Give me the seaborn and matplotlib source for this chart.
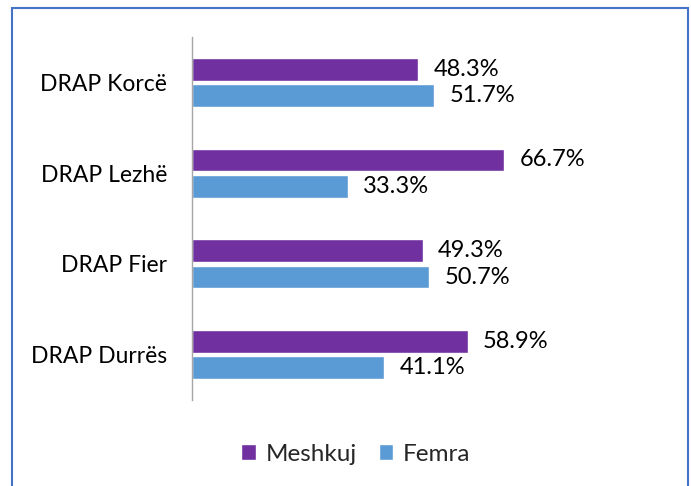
import pandas as pd
import numpy as np
import matplotlib.pyplot as plt
import seaborn as sns
from matplotlib.patches import Rectangle

# data
kategorite = ['DRAP Korcë', 'DRAP Lezhë', 'DRAP Fier', 'DRAP Durrës']
meshkuj = [48.3, 66.7, 49.3, 58.9]
femra = [51.7, 33.3, 50.7, 41.1]
seria = ['Meshkuj', 'Femra']
ngjyrat = ['#7030A0', '#5B9BD5']

df = pd.DataFrame({
    'drap': kategorite * 2,
    'gjinia': ['Meshkuj'] * 4 + ['Femra'] * 4,
    'vlera': meshkuj + femra,
})

sns.set_style('white')
plt.rcParams['font.family'] = ['Lato', 'DejaVu Sans']

fig = plt.figure(figsize=(6.91, 4.86), dpi=100)
ax = fig.add_axes([192 / 691, 1 - 400 / 486, (660 - 192) / 691, (400 - 37) / 486])

sns.barplot(data=df, y='drap', x='vlera', hue='gjinia', order=kategorite,
            hue_order=seria, palette=ngjyrat, orient='h', width=0.58, gap=0.14,
            saturation=1, ax=ax, legend=True)

for c in ax.containers:
    ax.bar_label(c, labels=['%.1f%%' % v for v in c.datavalues], padding=11,
                 fontsize=17, color='black')

ax.set_xlim(0, 100)
ax.set_ylim(3.5, -0.5)
ax.set_xlabel('')
ax.set_ylabel('')
ax.set_xticks([])
ax.tick_params(axis='y', length=0, pad=18, labelsize=16.5, labelcolor='black')
for s in ['top', 'right', 'bottom']:
    ax.spines[s].set_visible(False)
ax.spines['left'].set_color('#A6A6A6')
ax.spines['left'].set_linewidth(1)

h, l = ax.get_legend_handles_labels()
ax.legend_.remove()
fig.legend(h, l, loc='center', bbox_to_anchor=(356 / 691, 1 - 454 / 486), ncol=2,
           frameon=False, fontsize=17.5, handlelength=0.6, handleheight=0.6,
           handletextpad=0.4, columnspacing=0.9)

fig.patches.append(Rectangle((12 / 691, -0.05), (688 - 12) / 691, 1.05 - 8.5 / 486,
                             transform=fig.transFigure, fill=False,
                             edgecolor='#4472C4', linewidth=1.5))

fig.savefig('out.png', dpi=100)
